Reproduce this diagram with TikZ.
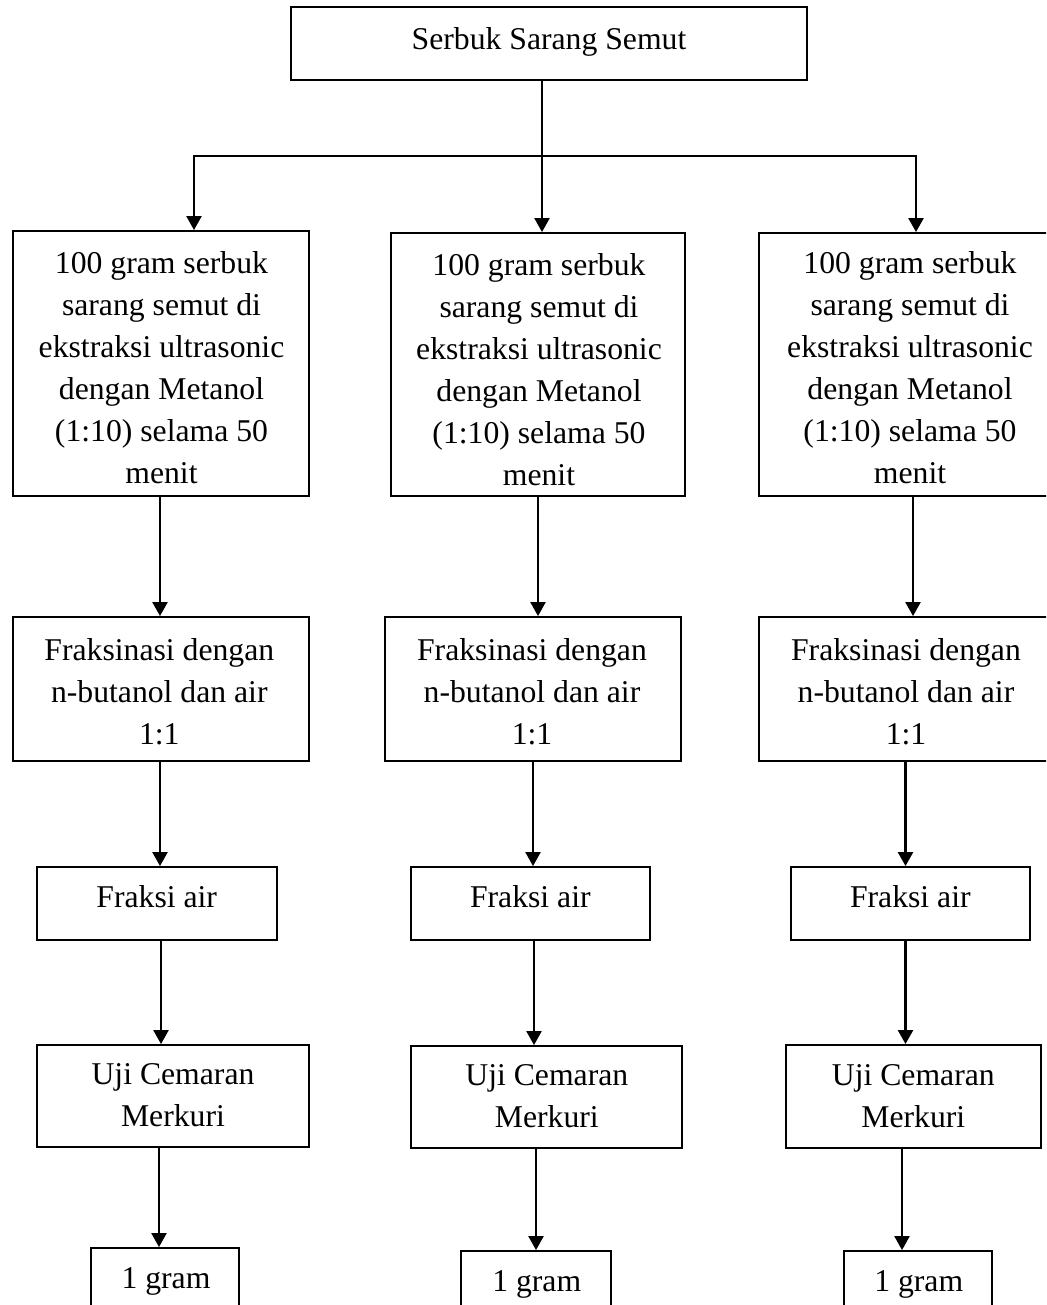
\documentclass[tikz,border=0pt]{standalone}
\usepackage{fontspec}
\setmainfont{Liberation Serif}
\usetikzlibrary{arrows.meta}
\begin{document}
\begin{tikzpicture}[x=1pt,y=-1pt,
  box/.style={draw, line width=1.9pt, inner sep=0pt},
  txt/.style={inner sep=0pt, align=center, font=\fontsize{31.7}{42}\selectfont},
  arr/.style={line width=2.4pt, -{Triangle[length=14pt,width=15pt]}},
  ln/.style={line width=2.4pt}]
\useasboundingbox (0,0) rectangle (1046,1305);
\clip (0,0) rectangle (1046,1305);
% boxes
\node[box, minimum width=516pt, minimum height=73pt] (s) at (549,43.5) {};
\node[box, minimum width=296pt, minimum height=265pt] (a1) at (161,363.5) {};
\node[box, minimum width=294pt, minimum height=263pt] (a2) at (538,364.5) {};
\node[box, minimum width=300pt, minimum height=263pt] (a3) at (909,364.5) {};
\node[box, minimum width=296pt, minimum height=144pt] (f1) at (161,689) {};
\node[box, minimum width=296pt, minimum height=144pt] (f2) at (533,689) {};
\node[box, minimum width=296pt, minimum height=144pt] (f3) at (907,689) {};
\node[box, minimum width=240pt, minimum height=73pt] (w1) at (157,903.5) {};
\node[box, minimum width=239pt, minimum height=73pt] (w2) at (530.5,903.5) {};
\node[box, minimum width=239pt, minimum height=73pt] (w3) at (910.5,903.5) {};
\node[box, minimum width=272pt, minimum height=102pt] (u1) at (173,1096) {};
\node[box, minimum width=271pt, minimum height=102pt] (u2) at (546.5,1097) {};
\node[box, minimum width=255pt, minimum height=103pt] (u3) at (913.5,1096.5) {};
\node[box, minimum width=148pt, minimum height=92pt] (g1) at (165,1294) {};
\node[box, minimum width=150pt, minimum height=89pt] (g2) at (536,1295.5) {};
\node[box, minimum width=148pt, minimum height=89pt] (g3) at (918,1295.5) {};
% texts
\node[txt, anchor=base] (ts) at (549,49.3) {Serbuk Sarang Semut};
\node[txt] (ta1) at (161.5,367.3) {100 gram serbuk\\sarang semut di\\ekstraksi ultrasonic\\dengan Metanol\\(1:10) selama 50\\menit};
\node[txt] (ta2) at (539,369.3) {100 gram serbuk\\sarang semut di\\ekstraksi ultrasonic\\dengan Metanol\\(1:10) selama 50\\menit};
\node[txt] (ta3) at (910,367.3) {100 gram serbuk\\sarang semut di\\ekstraksi ultrasonic\\dengan Metanol\\(1:10) selama 50\\menit};
\node[txt] (tf1) at (159.3,691.3) {Fraksinasi dengan\\n-butanol dan air\\1:1};
\node[txt] (tf2) at (532,691.3) {Fraksinasi dengan\\n-butanol dan air\\1:1};
\node[txt] (tf3) at (906,691.3) {Fraksinasi dengan\\n-butanol dan air\\1:1};
\node[txt, anchor=base] (tw1) at (156.7,907) {Fraksi air};
\node[txt, anchor=base] (tw2) at (530.3,907) {Fraksi air};
\node[txt, anchor=base] (tw3) at (910.3,907) {Fraksi air};
\node[txt] (tu1) at (173,1095.2) {Uji Cemaran\\Merkuri};
\node[txt] (tu2) at (546.8,1096) {Uji Cemaran\\Merkuri};
\node[txt] (tu3) at (913.3,1096.5) {Uji Cemaran\\Merkuri};
\node[txt, anchor=base] (tg1) at (166,1288) {1 gram};
\node[txt, anchor=base] (tg2) at (536.7,1291) {1 gram};
\node[txt, anchor=base] (tg3) at (918.7,1291) {1 gram};
% top connectors
\coordinate (jl) at (194,156);
\coordinate (jm) at (542,156);
\coordinate (jr) at (916,156);
\draw[ln] (s.south -| jm) -- (jm);
\draw[ln, line cap=rect] (jl) -- (jr);
\draw[arr] (jl) -- (jl |- a1.north);
\draw[arr] (jm) -- (jm |- a2.north);
\draw[arr] (jr) -- (jr |- a3.north);
% left column
\draw[arr] ([xshift=-1pt]a1.south) -- ([xshift=-1pt]a1.south |- f1.north);
\draw[arr] ([xshift=-1pt]f1.south) -- ([xshift=-1pt]f1.south |- w1.north);
\draw[arr] ([xshift=4pt]w1.south) -- ([xshift=4pt]w1.south |- u1.north);
\draw[arr] ([xshift=-6pt]g1.north |- u1.south) -- ([xshift=-6pt]g1.north);
% middle column
\draw[arr] (a2.south) -- (a2.south |- f2.north);
\draw[arr] (f2.south) -- (f2.south |- w2.north);
\draw[arr] ([xshift=3.5pt]w2.south) -- ([xshift=3.5pt]w2.south |- u2.north);
\draw[arr] (g2.north |- u2.south) -- (g2.north);
% right column
\draw[arr] ([xshift=4pt]a3.south) -- ([xshift=4pt]a3.south |- f3.north);
\draw[arr] ([xshift=-1.5pt]f3.south) -- ([xshift=-1.5pt]f3.south |- w3.north);
\draw[arr] ([xshift=-5pt]w3.south) -- ([xshift=-5pt]w3.south |- u3.north);
\draw[arr] ([xshift=-16pt]g3.north |- u3.south) -- ([xshift=-16pt]g3.north);
\end{tikzpicture}
\end{document}
